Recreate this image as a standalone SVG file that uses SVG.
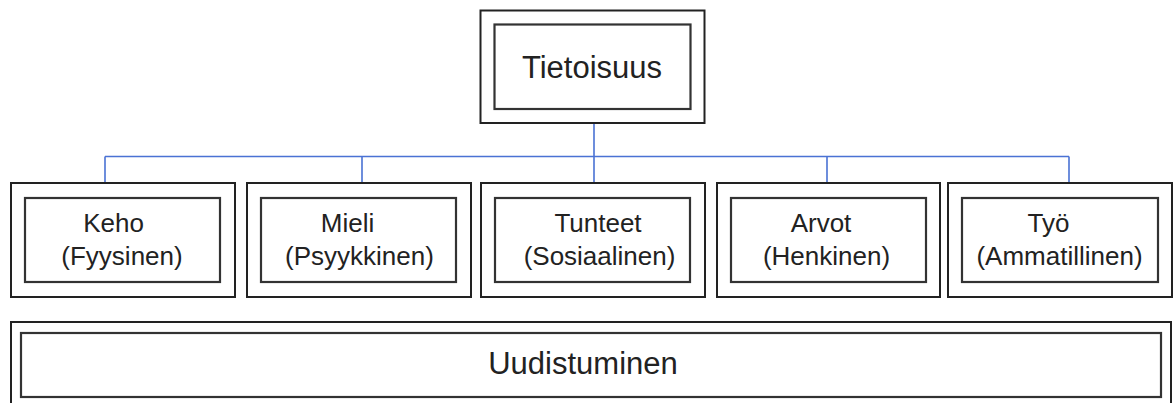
<svg xmlns="http://www.w3.org/2000/svg" width="1174" height="403" viewBox="0 0 1174 403">
<style>
.o{fill:#fff;stroke:#222;stroke-width:2}
.i{fill:#fff;stroke:#333;stroke-width:2.2}
.t{font-family:"Liberation Sans",Arial,sans-serif;font-size:26px;fill:#222;text-anchor:middle}
.b{font-size:31px}
.c{fill:none;stroke:#4a72d4;stroke-width:1.6}
</style>
<rect width="1174" height="403" fill="#fff"/>
<g id="connectors">
<path class="c" d="M594 123V183M105 156.5H1069M105 156.5V183M362 156.5V183M827 156.5V183M1069 156.5V183"/>
</g>
<g id="tietoisuus">
<rect class="o" x="480.5" y="10.5" width="224" height="112.5"/>
<rect class="i" x="494.5" y="24.5" width="196" height="84.5"/>
<text class="t b" x="592" y="78">Tietoisuus</text>
</g>
<g id="keho">
<rect class="o" x="11" y="183" width="224" height="114"/>
<rect class="i" x="25" y="198" width="195" height="84"/>
<text class="t" x="113.5" y="232">Keho</text>
<text class="t" x="122" y="265">(Fyysinen)</text>
</g>
<g id="mieli">
<rect class="o" x="247" y="183" width="224" height="114"/>
<rect class="i" x="261" y="198" width="195" height="84"/>
<text class="t" x="347.5" y="232">Mieli</text>
<text class="t" x="359.5" y="265">(Psyykkinen)</text>
</g>
<g id="tunteet">
<rect class="o" x="481" y="183" width="224" height="114"/>
<rect class="i" x="495" y="198" width="195" height="84"/>
<text class="t" x="598" y="232">Tunteet</text>
<text class="t" x="599.5" y="265">(Sosiaalinen)</text>
</g>
<g id="arvot">
<rect class="o" x="717" y="183" width="223" height="114"/>
<rect class="i" x="731" y="198" width="195" height="84"/>
<text class="t" x="821" y="232">Arvot</text>
<text class="t" x="826.5" y="265">(Henkinen)</text>
</g>
<g id="tyo">
<rect class="o" x="948" y="183" width="224" height="114"/>
<rect class="i" x="962" y="198" width="196" height="84"/>
<text class="t" x="1048.5" y="232">Työ</text>
<text class="t" x="1059.5" y="265">(Ammatillinen)</text>
</g>
<g id="uudistuminen">
<rect class="o" x="11" y="322" width="1160" height="84"/>
<rect class="i" x="21" y="333" width="1140" height="64"/>
<text class="t b" x="583" y="373.5">Uudistuminen</text>
</g>
</svg>
